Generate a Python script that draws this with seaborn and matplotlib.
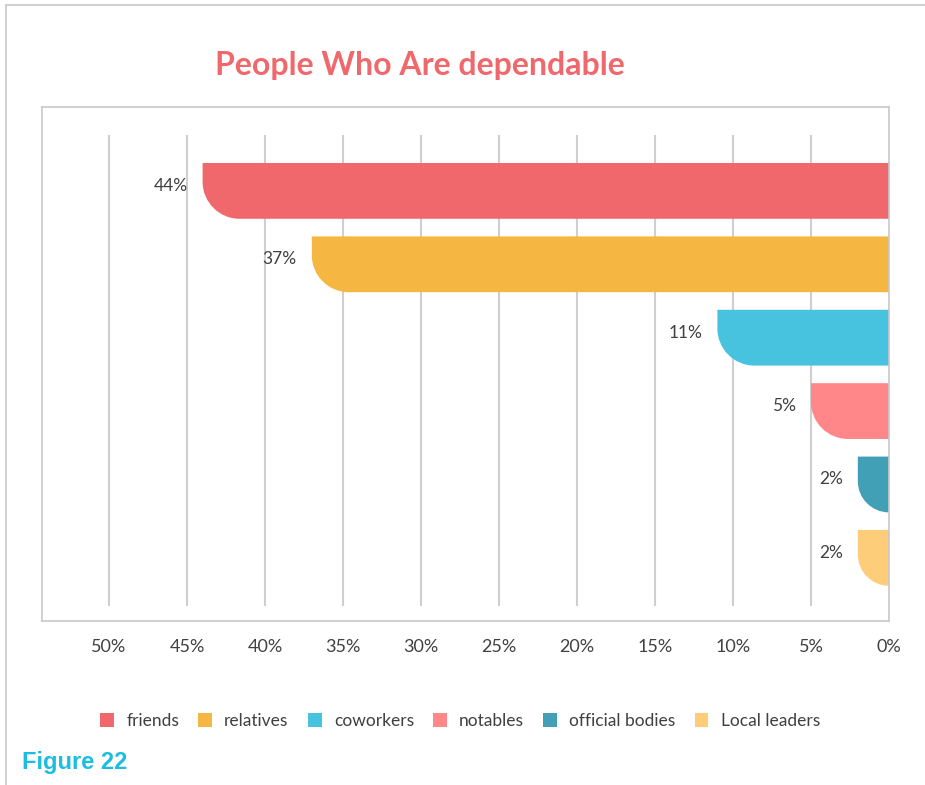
import numpy as np
import pandas as pd
import seaborn as sns
import matplotlib.pyplot as plt
from matplotlib.path import Path
from matplotlib.patches import PathPatch, Patch
from matplotlib.lines import Line2D

# Survey shares by group
categories = ["friends", "relatives", "coworkers", "notables", "official bodies", "Local leaders"]
values = [44, 37, 11, 5, 2, 2]
colors = ["#F0686B", "#F5B742", "#47C2DF", "#FF8789", "#41A0B6", "#FECD7A"]
tick_values = [0, 5, 10, 15, 20, 25, 30, 35, 40, 45, 50]
tick_labels = [f"{t}%" for t in tick_values]
title = "People Who Are dependable"
caption = "Figure 22"

sns.set_theme(style="white")
plt.rcParams["font.family"] = ["Lato", "DejaVu Sans"]

W, H = 925, 785
fig = plt.figure(figsize=(W / 100, H / 100), dpi=100)
fig.patch.set_facecolor("white")

# plot box in pixel coordinates
box_l, box_r, box_t, box_b = 41.7, 889.0, 106.7, 621.0
ax = fig.add_axes([box_l / W, 1 - box_b / H, (box_r - box_l) / W, (box_b - box_t) / H])

df = pd.DataFrame({"category": categories, "value": values})
sns.barplot(data=df, x="value", y="category", hue="category", palette=colors,
            orient="h", width=0.76, legend=False, ax=ax, saturation=1)

px_per_pct = (889.0 - 109.0) / 50.0
ax.set_xlim((box_r - box_l) / px_per_pct, 0)
ax.set_ylim(5.86, -1.147)

ax.set_xlabel("")
ax.set_ylabel("")
ax.set_yticks([])
ax.set_xticks(tick_values)
ax.set_xticklabels(tick_labels, fontsize=13, color="#404040")
ax.tick_params(axis="x", length=0, pad=13)
ax.grid(False)
for sp in ax.spines.values():
    sp.set_visible(True)
    sp.set_color("#C8C8C8")
    sp.set_linewidth(1.2)

# vertical gridlines that stop short of the box edges (0% sits on the right edge)
ax.vlines(tick_values[1:], 0.03, 0.945, transform=ax.get_xaxis_transform(),
          colors="#CFCFCF", linewidth=1.5, zorder=0)

# replace each bar with a shape rounded at its lower-left corner
fig.canvas.draw()
to_data = ax.transData.inverted()
k = 0.5523
for patch in list(ax.patches):
    x0, y0 = patch.get_x(), patch.get_y()
    w, h = patch.get_width(), patch.get_height()
    fc = patch.get_facecolor()
    patch.set_visible(False)
    corners = ax.transData.transform([(x0, y0), (x0 + w, y0 + h)])
    L, R = sorted([corners[0][0], corners[1][0]])
    B, T = sorted([corners[0][1], corners[1][1]])
    r = min(37.0, R - L, T - B)
    verts = [(R, B), (L + r, B),
             (L + r - k * r, B), (L, B + r - k * r), (L, B + r),
             (L, T), (R, T), (R, B)]
    codes = [Path.MOVETO, Path.LINETO,
             Path.CURVE4, Path.CURVE4, Path.CURVE4,
             Path.LINETO, Path.LINETO, Path.CLOSEPOLY]
    path = Path(to_data.transform(verts), codes)
    ax.add_patch(PathPatch(path, facecolor=fc, edgecolor="none", zorder=2))

# value labels left of each bar
for i, v in enumerate(values):
    ax.annotate(f"{v}%", xy=(v, i), xytext=(-15, 5), textcoords="offset pixels",
                ha="right", va="center", fontsize=12.5, color="#404040")

# title and caption
fig.text(420 / W, 1 - 65 / H, title, ha="center", va="center",
         fontsize=23, fontweight="bold", color="#F0686B")
fig.text(22 / W, 1 - 762 / H, caption, ha="left", va="center",
         fontsize=17, fontweight="bold", color="#1CBDE0",
         family=["Liberation Sans", "DejaVu Sans"])

# legend
handles = [Patch(facecolor=c, edgecolor="none", label=n) for n, c in zip(categories, colors)]
fig.legend(handles=handles, loc="center", bbox_to_anchor=(460 / W, 1 - 721 / H),
           ncol=6, frameon=False, fontsize=12.5, handlelength=0.8, handleheight=0.8,
           handletextpad=0.7, columnspacing=1.1, labelcolor="#404040")

# outer frame edges
fig.add_artist(Line2D([6 / W, 6 / W], [0, 1 - 5 / H], color="#C8C8C8", linewidth=1.2,
                      transform=fig.transFigure))
fig.add_artist(Line2D([6 / W, 1], [1 - 5 / H, 1 - 5 / H], color="#C8C8C8", linewidth=1.2,
                      transform=fig.transFigure))

fig.savefig("out.png", dpi=100)
